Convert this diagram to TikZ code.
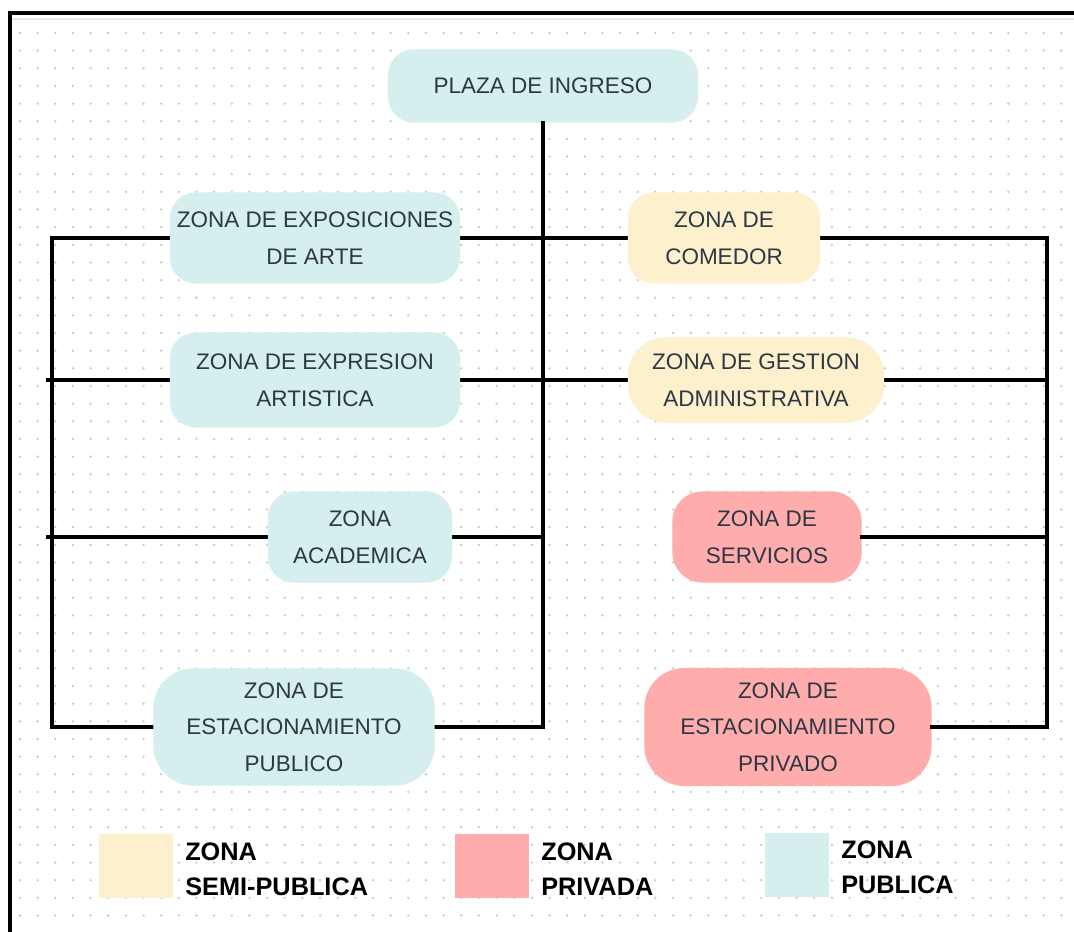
\documentclass[tikz,border=0pt]{standalone}
\usepackage{fontspec}
\setmainfont{Liberation Sans}
\definecolor{publica}{RGB}{213,238,238}
\definecolor{semipub}{RGB}{253,240,204}
\definecolor{privada}{RGB}{255,172,172}
\definecolor{zonatext}{RGB}{45,56,68}
\definecolor{dotgray}{RGB}{200,200,200}

\begin{document}
\begin{tikzpicture}[x=0.025cm,y=-0.025cm,zone/.style={rounded corners=0.65cm,align=center,inner sep=0pt,text=zonatext,font=\fontsize{16}{26}\selectfont},pub/.style={zone,fill=publica},semi/.style={zone,fill=semipub},priv/.style={zone,fill=privada},link/.style={line width=2.3pt,line cap=rect},swatch/.style={inner sep=0pt,minimum width=1.85cm,minimum height=1.58cm},legtext/.style={anchor=west,align=left,inner sep=0pt,font=\fontsize{18}{25}\selectfont\bfseries}]
\useasboundingbox (0,0) rectangle (1074,932);
\fill[white] (0,0) rectangle (1074,932);
\foreach \i in {0,...,59} \foreach \j in {0,...,50} \fill[dotgray] (20+17.65*\i,33+17.65*\j) circle (0.032cm);
\draw[black!10,line width=1pt] (10,19)--(1074,19);
\draw[line width=2.4pt] (10,932)--(10,13)--(1074,13);
\coordinate (l1) at (52,238); \coordinate (l2) at (48,380); \coordinate (l3) at (48,537); \coordinate (l4) at (52,727);
\coordinate (r1) at (1047,238); \coordinate (r2) at (1047,380); \coordinate (r3) at (1047,537); \coordinate (r4) at (1047,727);
\coordinate (c3) at (543,537); \coordinate (c4) at (543,727);
\node[pub,minimum width=7.75cm,minimum height=1.83cm] (plaza) at (543,86) {PLAZA DE INGRESO};
\draw[link] (plaza.south)--(c4); \draw[link] (l1)--(l4); \draw[link] (r1)--(r4);
\draw[link] (l1)--(r1); \draw[link] (l2)--(r2); \draw[link] (l3)--(c3); \draw[link] (l4)--(c4);
\node[pub,minimum width=7.25cm,minimum height=2.28cm] (expo) at (315,238) {ZONA DE EXPOSICIONES\\DE ARTE};
\node[semi,minimum width=4.8cm,minimum height=2.28cm] (comedor) at (724,238) {ZONA DE\\COMEDOR};
\node[pub,minimum width=7.25cm,minimum height=2.38cm] (expresion) at (315,380) {ZONA DE EXPRESION\\ARTISTICA};
\node[semi,rounded corners=0.95cm,minimum width=6.4cm,minimum height=2.13cm] (gestion) at (756,380) {ZONA DE GESTION\\ADMINISTRATIVA};
\node[pub,minimum width=4.6cm,minimum height=2.28cm] (academica) at (360,537) {ZONA\\ACADEMICA};
\node[priv,rounded corners=0.75cm,minimum width=4.73cm,minimum height=2.28cm] (servicios) at (767,537) {ZONA DE\\SERVICIOS};
\node[pub,rounded corners=1cm,minimum width=7.03cm,minimum height=2.93cm] (estpub) at (294,727) {ZONA DE\\ESTACIONAMIENTO\\PUBLICO};
\node[priv,rounded corners=1cm,minimum width=7.18cm,minimum height=2.95cm] (estpriv) at (788,727) {ZONA DE\\ESTACIONAMIENTO\\PRIVADO};
\draw[link] (servicios.east)--(r3); \draw[link] (estpriv.east)--(r4);
\node[swatch,fill=semipub] (semisw) at (136,866) {}; \node[legtext] (semilbl) at (185,869) {ZONA\\SEMI-PUBLICA};
\node[swatch,fill=privada,minimum width=1.83cm] (privsw) at (492,866) {}; \node[legtext] (privlbl) at (541,869) {ZONA\\PRIVADA};
\node[swatch,fill=publica,minimum width=1.62cm,minimum height=1.6cm] (pubsw) at (797,865) {}; \node[legtext] (publbl) at (841,867) {ZONA\\PUBLICA};
\end{tikzpicture}
\end{document}
